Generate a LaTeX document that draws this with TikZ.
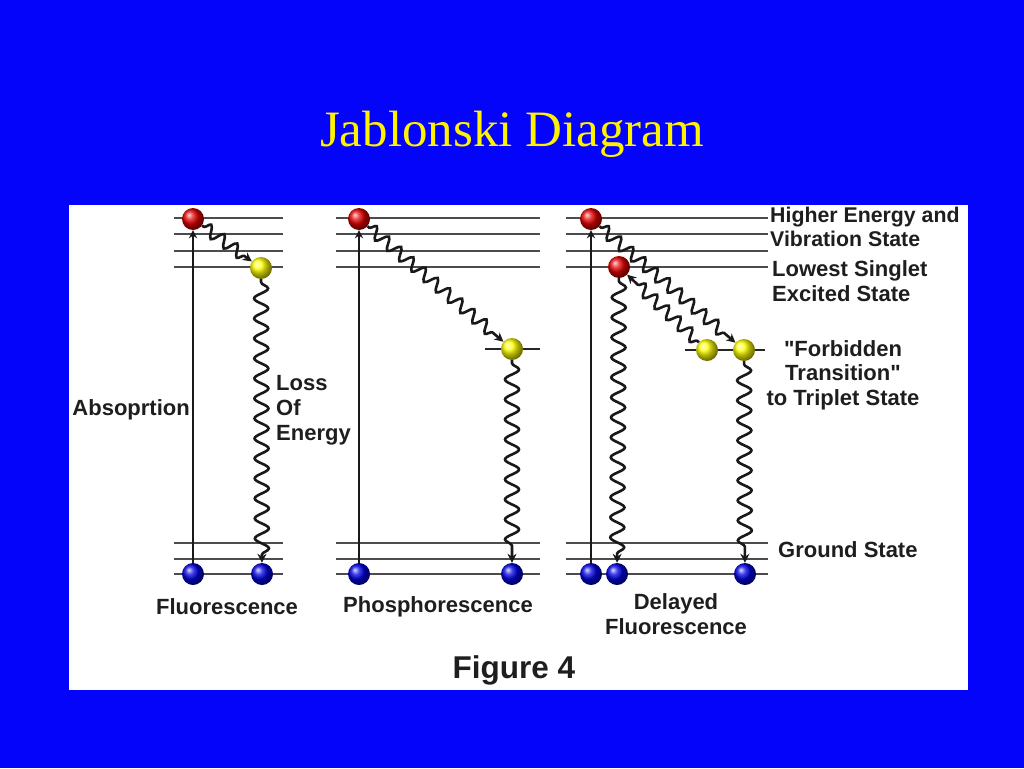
\documentclass[tikz,border=0pt]{standalone}
\usepackage{fontspec}
\setmainfont{Liberation Sans}[Ligatures=TeXOff]
\newfontfamily\titlefont{Liberation Serif}
\usetikzlibrary{decorations.pathmorphing,arrows.meta}
\definecolor{bg}{RGB}{4,4,250}
\definecolor{ink}{RGB}{30,30,30}
\begin{document}
\begin{tikzpicture}[x=1pt,y=-1pt,
 lvl/.style={line width=2.6pt, draw=black!70},
 ball/.style={circle, inner sep=0pt, minimum size=22pt},
 redball/.style={ball, ball color=red!90!black},
 yelball/.style={ball, ball color=yellow},
 bluball/.style={ball, ball color=blue!90!black},
 absorb/.style={line width=2.8pt, draw=black!90, -{Stealth[length=8pt,width=8pt]}},
 wave/.style={line width=2.6pt, draw=black!90, decorate, decoration={snake, amplitude=6pt, segment length=16pt, pre length=2pt, post length=8pt}, -{Stealth[length=9pt,width=9pt]}},
 vwave/.style={wave, decoration={snake, amplitude=7pt, segment length=20pt, pre length=3pt, post length=8pt}},
 lab/.style={font=\bfseries\fontsize{22}{25}\selectfont, text=ink, inner sep=0pt}
]
\useasboundingbox (0,0) rectangle (1024,768);
\fill[bg] (0,0) rectangle (1024,768);
\fill[white] (69,205) rectangle (968,690);
\node[font=\titlefont\fontsize{51}{60}\selectfont, text=yellow] (title) at (512,134) {Jablonski Diagram};

% energy levels
\foreach \xa/\xb in {174/283, 336/540, 566/768}{
  \foreach \y in {218,234,251,267} \draw[lvl] (\xa,\y) -- (\xb,\y);
  \foreach \y in {543,559,574} \draw[lvl] (\xa,\y) -- (\xb,\y);
}
\draw[lvl, draw=black!85] (485,349) -- (540,349);
\draw[lvl, draw=black!85] (685,350) -- (765,350);

% left panel
\node[redball] (r1) at (193,219) {};
\node[yelball] (y1) at (261,268) {};
\node[bluball] (b1) at (193,574) {};
\node[bluball] (b2) at (262,574) {};
\draw[absorb] (b1) -- (r1);
\draw[wave] (r1) -- (y1);
\draw[vwave] (y1) -- (b2);

% middle panel
\node[redball] (r2) at (359,219) {};
\node[yelball] (y2) at (512,349) {};
\node[bluball] (b3) at (359,574) {};
\node[bluball] (b4) at (512,574) {};
\draw[absorb] (b3) -- (r2);
\draw[wave] (r2) -- (y2);
\draw[vwave] (y2) -- (b4);

% right panel
\node[redball] (r3) at (591,219) {};
\node[redball] (r4) at (619,267) {};
\node[yelball] (y3) at (707,350) {};
\node[yelball] (y4) at (744,350) {};
\node[bluball] (b5) at (591,574) {};
\node[bluball] (b6) at (617,574) {};
\node[bluball] (b7) at (745,574) {};
\draw[absorb] (b5) -- (r3);
\draw[wave] (r3) -- (y4);
\draw[wave] (y3) -- (r4);
\draw[vwave] (r4) -- (b6);
\draw[vwave] (y4) -- (b7);

% labels
\node[lab, anchor=east] (labs) at (190,410) {Absoprtion};
\node[lab, anchor=west, align=left] (lloss) at (276,410) {Loss\\Of\\Energy};
\node[lab] (lfl) at (227,607) {Fluorescence};
\node[lab] (lph) at (438,607) {Phosphorescence};
\node[lab, align=center] (ldf) at (676,614) {Delayed\\Fluorescence};
\node[lab, anchor=west, align=left, font=\bfseries\fontsize{21.3}{24}\selectfont] (lhi) at (770,227) {Higher Energy and\\Vibration State};
\node[lab, anchor=west, align=left] (llo) at (772,281) {Lowest Singlet\\Excited State};
\node[lab, align=center, font=\bfseries\fontsize{22}{24.5}\selectfont] (lfo) at (843,375) {"Forbidden\\Transition"\\to Triplet State};
\node[lab, anchor=west] (lgr) at (778,550) {Ground State};
\node[font=\bfseries\fontsize{31.5}{36}\selectfont, text=ink] (fig) at (514,670) {Figure 4};
\end{tikzpicture}
\end{document}
